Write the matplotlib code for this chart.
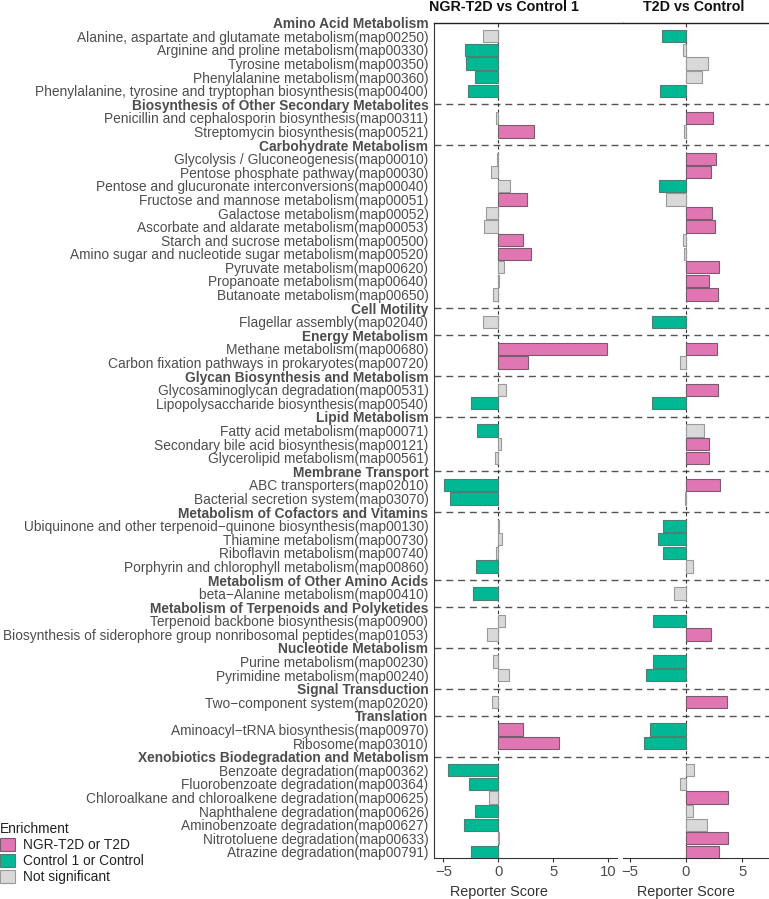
import numpy as np
import matplotlib
matplotlib.use("Agg")
import matplotlib.pyplot as plt
from matplotlib.patches import Patch

plt.rcParams['font.family'] = ['Liberation Sans', 'DejaVu Sans']

# Rows top to bottom; headers carry no score (nan)
labels = [
    "Amino Acid Metabolism",
    "Alanine, aspartate and glutamate metabolism(map00250)",
    "Arginine and proline metabolism(map00330)",
    "Tyrosine metabolism(map00350)",
    "Phenylalanine metabolism(map00360)",
    "Phenylalanine, tyrosine and tryptophan biosynthesis(map00400)",
    "Biosynthesis of Other Secondary Metabolites",
    "Penicillin and cephalosporin biosynthesis(map00311)",
    "Streptomycin biosynthesis(map00521)",
    "Carbohydrate Metabolism",
    "Glycolysis / Gluconeogenesis(map00010)",
    "Pentose phosphate pathway(map00030)",
    "Pentose and glucuronate interconversions(map00040)",
    "Fructose and mannose metabolism(map00051)",
    "Galactose metabolism(map00052)",
    "Ascorbate and aldarate metabolism(map00053)",
    "Starch and sucrose metabolism(map00500)",
    "Amino sugar and nucleotide sugar metabolism(map00520)",
    "Pyruvate metabolism(map00620)",
    "Propanoate metabolism(map00640)",
    "Butanoate metabolism(map00650)",
    "Cell Motility",
    "Flagellar assembly(map02040)",
    "Energy Metabolism",
    "Methane metabolism(map00680)",
    "Carbon fixation pathways in prokaryotes(map00720)",
    "Glycan Biosynthesis and Metabolism",
    "Glycosaminoglycan degradation(map00531)",
    "Lipopolysaccharide biosynthesis(map00540)",
    "Lipid Metabolism",
    "Fatty acid metabolism(map00071)",
    "Secondary bile acid biosynthesis(map00121)",
    "Glycerolipid metabolism(map00561)",
    "Membrane Transport",
    "ABC transporters(map02010)",
    "Bacterial secretion system(map03070)",
    "Metabolism of Cofactors and Vitamins",
    "Ubiquinone and other terpenoid\u2212quinone biosynthesis(map00130)",
    "Thiamine metabolism(map00730)",
    "Riboflavin metabolism(map00740)",
    "Porphyrin and chlorophyll metabolism(map00860)",
    "Metabolism of Other Amino Acids",
    "beta\u2212Alanine metabolism(map00410)",
    "Metabolism of Terpenoids and Polyketides",
    "Terpenoid backbone biosynthesis(map00900)",
    "Biosynthesis of siderophore group nonribosomal peptides(map01053)",
    "Nucleotide Metabolism",
    "Purine metabolism(map00230)",
    "Pyrimidine metabolism(map00240)",
    "Signal Transduction",
    "Two\u2212component system(map02020)",
    "Translation",
    "Aminoacyl\u2212tRNA biosynthesis(map00970)",
    "Ribosome(map03010)",
    "Xenobiotics Biodegradation and Metabolism",
    "Benzoate degradation(map00362)",
    "Fluorobenzoate degradation(map00364)",
    "Chloroalkane and chloroalkene degradation(map00625)",
    "Naphthalene degradation(map00626)",
    "Aminobenzoate degradation(map00627)",
    "Nitrotoluene degradation(map00633)",
    "Atrazine degradation(map00791)",
]

nan = np.nan
score_ngr = [
    nan, -1.36, -3.03, -2.97, -2.12, -2.73,
    nan, -0.24, 3.24,
    nan, -0.12, -0.70, 1.09, 2.58, -1.15, -1.27, 2.27, 2.94, 0.48, 0.05, -0.48,
    nan, -1.36,
    nan, 9.85, 2.67,
    nan, 0.67, -2.48,
    nan, -1.97, 0.27, -0.30,
    nan, -4.94, -4.36,
    nan, 0.03, 0.30, -0.24, -2.03,
    nan, -2.27,
    nan, 0.58, -1.03,
    nan, -0.48, 0.94,
    nan, -0.58,
    nan, 2.21, 5.55,
    nan, -4.55, -2.70, -0.82, -2.15, -3.09, 0.05, -2.48,
]
sig_ngr = [
    "", "ns", "dn", "dn", "dn", "dn",
    "", "ns", "up",
    "", "ns", "ns", "ns", "up", "ns", "ns", "up", "up", "ns", "ns", "ns",
    "", "ns",
    "", "up", "up",
    "", "ns", "dn",
    "", "dn", "ns", "ns",
    "", "dn", "dn",
    "", "ns", "ns", "ns", "dn",
    "", "dn",
    "", "ns", "ns",
    "", "ns", "ns",
    "", "ns",
    "", "up", "up",
    "", "dn", "dn", "ns", "dn", "dn", "ns", "dn",
]
score_t2d = [
    nan, -2.16, -0.24, 1.99, 1.45, -2.32,
    nan, 2.44, -0.18,
    nan, 2.65, 2.20, -2.38, -1.82, 2.29, 2.55, -0.29, -0.20, 2.98, 2.02, 2.83,
    nan, -3.06,
    nan, 2.74, -0.54,
    nan, 2.83, -3.06,
    nan, 1.64, 2.08, 2.08,
    nan, 3.06, -0.05,
    nan, -2.02, -2.53, -2.02, 0.66,
    nan, -1.04,
    nan, -2.92, 2.23,
    nan, -2.92, -3.54,
    nan, 3.63,
    nan, -3.18, -3.75,
    nan, 0.75, -0.51, 3.78, 0.59, 1.85, 3.78, 2.92,
]
sig_t2d = [
    "", "dn", "ns", "ns", "ns", "dn",
    "", "up", "ns",
    "", "up", "up", "dn", "ns", "up", "up", "ns", "ns", "up", "up", "up",
    "", "dn",
    "", "up", "ns",
    "", "up", "dn",
    "", "ns", "up", "up",
    "", "up", "ns",
    "", "dn", "dn", "dn", "ns",
    "", "ns",
    "", "dn", "up",
    "", "dn", "dn",
    "", "up",
    "", "dn", "dn",
    "", "ns", "ns", "up", "ns", "ns", "up", "up",
]

legend_labels = ["NGR-T2D or T2D", "Control 1 or Control", "Not significant"]
fills = {"up": "#E077B2", "dn": "#00B894", "ns": "#D9D9D9"}
edges = {"up": "#7a5a6e", "dn": "#4f7f72", "ns": "#9a9a9a"}

W, H = 769, 899
fig = plt.figure(figsize=(W / 100, H / 100), dpi=100)

def fx(px):
    return px / W

def fy(py):
    return 1 - py / H

top_px, bot_px = 22.7, 858
ax1 = fig.add_axes([fx(434), fy(bot_px), fx(617 - 434), (bot_px - top_px) / H])
ax2 = fig.add_axes([fx(622.7), fy(bot_px), fx(769 - 622.7), (bot_px - top_px) / H])

y = np.arange(len(labels))
header_rows = [i for i, s in enumerate(score_ngr) if np.isnan(s)]
text_col = "#4D4D4D"
fs = 9.9

for ax, scores, sigs, xlim in [(ax1, score_ngr, sig_ngr, (-5.85, 10.8)),
                               (ax2, score_t2d, sig_t2d, (-5.65, 7.4))]:
    vals = np.array(scores)
    mask = ~np.isnan(vals)
    cols = [fills[s] for s in np.array(sigs)[mask]]
    ecs = [edges[s] for s in np.array(sigs)[mask]]
    ax.barh(y[mask], vals[mask], height=0.9, color=cols, edgecolor=ecs,
            linewidth=0.8, zorder=3)
    ax.axvline(0, color="#333333", ls=(0, (3, 2.5)), lw=0.8, zorder=2)
    ext = 1 + 6 / (ax.get_position().width * W) if ax is ax1 else 1
    for r in header_rows:
        if r == 0:
            ax.axhline(r, xmin=0, xmax=ext, color="#222222", lw=1.0,
                       clip_on=False, zorder=4)
        else:
            ax.axhline(r, xmin=0, xmax=ext, color="#555555", lw=1.0,
                       ls=(0, (5, 3.5)), clip_on=False, zorder=1)
    ax.set_xlim(*xlim)
    ax.set_ylim(len(labels) - 1 + 0.45, 0)
    ax.set_xticks([-5, 0, 5, 10] if ax is ax1 else [-5, 0, 5])
    ax.tick_params(axis="x", length=3, width=0.8, color="#333333",
                   labelcolor=text_col, labelsize=fs + 0.8, pad=2)
    for side in ["top", "right"]:
        ax.spines[side].set_visible(False)
    ax.spines["bottom"].set_color("#333333")
    ax.spines["left"].set_color("#333333")

ax1.set_yticks(y)
ax1.set_yticklabels(labels)
ax1.tick_params(axis="y", length=0, pad=4, labelsize=fs, labelcolor=text_col)
for i, t in enumerate(ax1.get_yticklabels()):
    if i in header_rows:
        t.set_fontweight("bold")
ax2.set_yticks([])
ax2.spines["left"].set_visible(False)

fig.text(fx(503.5), fy(7), "NGR-T2D vs Control 1", ha="center", va="center",
         fontsize=10.3, fontweight="bold", color="#111111")
fig.text(fx(693.5), fy(7), "T2D vs Control", ha="center", va="center",
         fontsize=10.3, fontweight="bold", color="#111111")
fig.text(fx(498.5), fy(891.7), "Reporter Score", ha="center", va="center",
         fontsize=fs + 0.5, color="#333333")
fig.text(fx(686), fy(891.7), "Reporter Score", ha="center", va="center",
         fontsize=fs + 0.5, color="#333333")

handles = [Patch(facecolor=fills[k], edgecolor=edges[k], linewidth=0.8)
           for k in ["up", "dn", "ns"]]
leg = fig.legend(handles, legend_labels, title="Enrichment", loc="upper left",
                 bbox_to_anchor=(0.0, fy(822)), frameon=False, fontsize=fs,
                 title_fontsize=fs, handlelength=1.1, handleheight=1.1,
                 labelspacing=0.12, handletextpad=0.55, borderpad=0,
                 borderaxespad=0, alignment="left")
for t in leg.get_texts():
    t.set_color("#222222")
leg.get_title().set_color("#222222")

fig.savefig("out.png", dpi=100)
